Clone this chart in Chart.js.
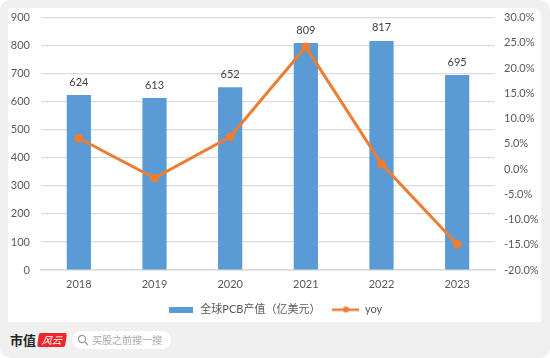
<!DOCTYPE html>
<html>
<head>
<meta charset="utf-8">
<script src="https://cdn.jsdelivr.net/npm/chart.js@4"></script>
<style>
html, body { margin: 0; padding: 0; background: #fff; }
#page { position: relative; width: 550px; height: 358px; background: #f0f0f0; border-radius: 10px; overflow: hidden; }
#card { position: absolute; left: 8px; top: 8px; width: 533px; height: 314px; background: #fff; border-radius: 4px 8px 0 0; }
#chartBox { position: absolute; left: 0; top: 0; width: 550px; height: 325px; }
#logo { position: absolute; left: 10px; top: 330px; font: bold 13px "Noto Sans CJK SC"; color: #222; line-height: 20px; }
#logoMark { position: absolute; left: 38px; top: 333px; width: 28px; height: 14px; background: #f0252b; color: #fff; font: italic 10px "Noto Sans CJK SC"; line-height: 14px; text-align: center; border-radius: 2px; transform: skewX(-8deg); }
#search { position: absolute; left: 72px; top: 331px; width: 99px; height: 18px; background: #fff; border-radius: 9px; font: 10px "Noto Sans CJK SC"; color: #aaa; line-height: 18px; }
#search span { position: absolute; left: 20px; white-space: nowrap; }
#search svg { position: absolute; left: 5px; top: 3px; }
</style>
</head>
<body>
<div id="page">
    <div id="card"></div>
    <div id="chartBox"><canvas id="pcbChart" width="550" height="325"></canvas></div>
    <div id="logo">市值</div>
    <div id="logoMark">风云</div>
    <div id="search">
        <svg width="12" height="12" viewBox="0 0 12 12"><circle cx="5" cy="5" r="3.6" fill="none" stroke="#999" stroke-width="1.2"/><line x1="8" y1="8" x2="11" y2="11" stroke="#999" stroke-width="1.2"/></svg>
        <span>买股之前搜一搜</span>
    </div>
</div>
<script>
const years = ["2018", "2019", "2020", "2021", "2022", "2023"];
const pcbValues = [624, 613, 652, 809, 817, 695];
const yoyValues = [6.1, -1.8, 6.4, 24.2, 1.0, -14.9];
const leftTicks = [0, 100, 200, 300, 400, 500, 600, 700, 800, 900];
const rightTicks = [-20, -15, -10, -5, 0, 5, 10, 15, 20, 25, 30];
const barName = "全球PCB产值（亿美元）";
const lineName = "yoy";

const FONT = 'Lato, "Noto Sans CJK SC", sans-serif';
const TEXT_COLOR = "#595959";
const BAR_COLOR = "#5b9bd5";
const LINE_COLOR = "#ed7d31";

// legend swatch for the bars
function barSwatch() {
    const c = document.createElement("canvas");
    c.width = 24;
    c.height = 6;
    const ctx = c.getContext("2d");
    ctx.fillStyle = BAR_COLOR;
    ctx.fillRect(0, 0, 24, 6);
    return c;
}

// legend swatch for the line: a short stroke with a dot in the middle
function lineSwatch() {
    const c = document.createElement("canvas");
    c.width = 27;
    c.height = 8;
    const ctx = c.getContext("2d");
    ctx.fillStyle = LINE_COLOR;
    ctx.fillRect(0, 3, 27, 2.5);
    ctx.beginPath();
    ctx.arc(13.5, 4, 3, 0, Math.PI * 2);
    ctx.fill();
    return c;
}

// draws the number above each bar
const barLabels = {
    id: "barLabels",
    afterDatasetsDraw(chart) {
        const ctx = chart.ctx;
        const meta = chart.getDatasetMeta(1);
        ctx.save();
        ctx.font = "11px " + FONT;
        ctx.fillStyle = "#404040";
        ctx.textAlign = "center";
        ctx.textBaseline = "middle";
        meta.data.forEach((bar, i) => {
            ctx.fillText(pcbValues[i], bar.x, bar.y - 13);
        });
        ctx.restore();
    }
};

new Chart(document.getElementById("pcbChart"), {
    type: "bar",
    data: {
        labels: years,
        datasets: [
            {
                type: "line",
                label: lineName,
                data: yoyValues,
                yAxisID: "y2",
                borderColor: LINE_COLOR,
                backgroundColor: LINE_COLOR,
                borderWidth: 3,
                pointRadius: 3,
                pointBackgroundColor: LINE_COLOR,
                tension: 0,
                order: 1
            },
            {
                type: "bar",
                label: barName,
                data: pcbValues,
                yAxisID: "y",
                backgroundColor: BAR_COLOR,
                barPercentage: 0.32,
                categoryPercentage: 1,
                order: 2
            }
        ]
    },
    options: {
        responsive: false,
        animation: false,
        plugins: {
            legend: {
                position: "bottom",
                labels: {
                    color: TEXT_COLOR,
                    font: { family: FONT, size: 11 },
                    usePointStyle: true,
                    pointStyleWidth: 27,
                    boxHeight: 8,
                    padding: 12,
                    generateLabels: () => [
                        { text: barName, pointStyle: barSwatch(), fontColor: TEXT_COLOR, datasetIndex: 1 },
                        { text: lineName, pointStyle: lineSwatch(), fontColor: TEXT_COLOR, datasetIndex: 0 }
                    ]
                }
            },
            tooltip: { enabled: false }
        },
        scales: {
            x: {
                grid: { display: false, drawTicks: false },
                border: { color: "#d9d9d9", width: 1.5 },
                afterFit: axis => { axis.height = 22; },
                ticks: { color: TEXT_COLOR, font: { family: FONT, size: 11 }, padding: 8 }
            },
            y: {
                position: "left",
                min: 0,
                max: 900,
                afterBuildTicks: axis => { axis.ticks = leftTicks.map(v => ({ value: v })); },
                afterFit: axis => { axis.width = 41; },
                grid: { color: "#dcdcdc", lineWidth: 1.2, drawTicks: false },
                border: { display: false },
                ticks: { color: TEXT_COLOR, font: { family: FONT, size: 11 }, padding: 11 }
            },
            y2: {
                position: "right",
                min: -20,
                max: 30,
                afterBuildTicks: axis => { axis.ticks = rightTicks.map(v => ({ value: v })); },
                afterFit: axis => { axis.width = 55; },
                grid: { display: false, drawTicks: false },
                border: { display: false },
                ticks: {
                    color: TEXT_COLOR,
                    font: { family: FONT, size: 11 },
                    padding: 9,
                    callback: v => v.toFixed(1) + "%"
                }
            }
        }
    },
    plugins: [barLabels]
});
</script>
</body>
</html>
